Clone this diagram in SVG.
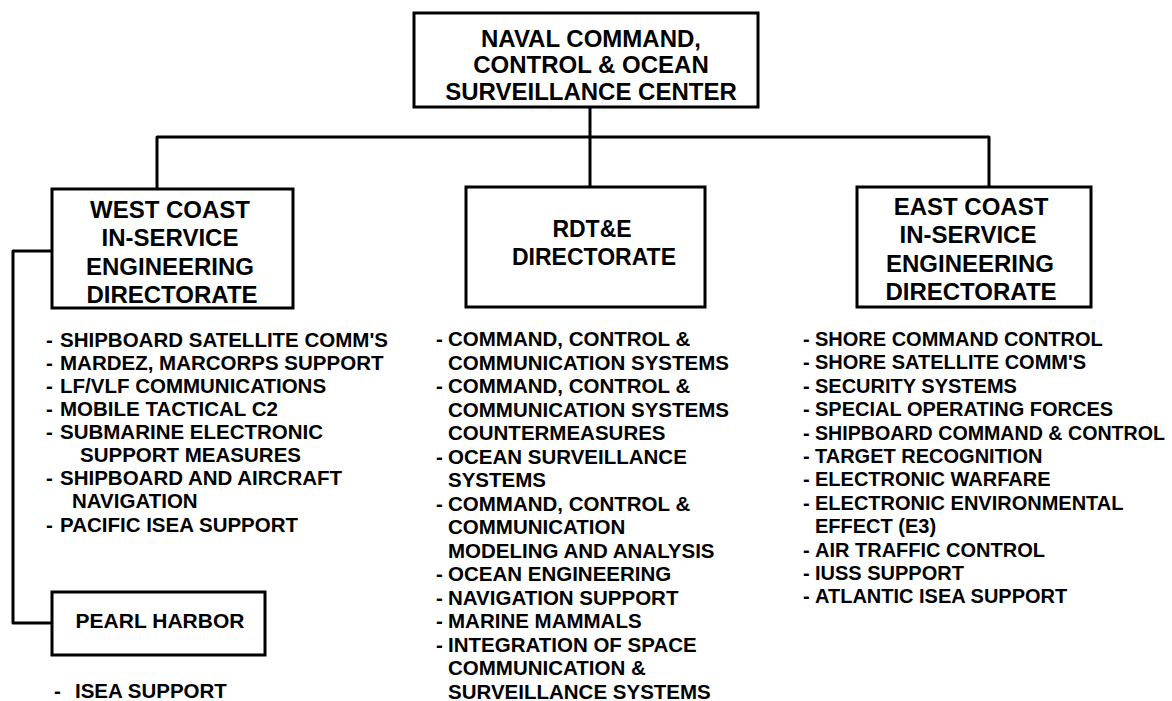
<svg xmlns="http://www.w3.org/2000/svg" width="1172" height="701" viewBox="0 0 1172 701">
<style>
.box{fill:#fff;stroke:#000;stroke-width:3}
.conn{fill:none;stroke:#000;stroke-width:3;stroke-linejoin:round}
.h{font-family:"Liberation Sans",Arial,sans-serif;font-weight:bold;font-size:24px;fill:#000;text-anchor:middle}
.l{font-family:"Liberation Sans",Arial,sans-serif;font-weight:bold;font-size:20.5px;fill:#000}
.e{font-size:20px}
</style>
<rect width="1172" height="701" fill="#fff"/>
<g id="connectors">
<path class="conn" d="M590,107 V137"/>
<path class="conn" d="M157,188 V137 H989 V187"/>
<path class="conn" d="M590,137 V187"/>
<path class="conn" d="M52,251 H13 V623 H52"/>
</g>
<g id="center">
<rect class="box" x="414" y="13" width="344" height="94"/>
<text class="h" x="591" y="47">NAVAL COMMAND,</text>
<text class="h" x="591" y="73">CONTROL &amp; OCEAN</text>
<text class="h" x="591" y="100">SURVEILLANCE CENTER</text>
</g>
<g id="west">
<rect class="box" x="52" y="189" width="241" height="119"/>
<text class="h" x="170" y="218">WEST COAST</text>
<text class="h" x="170" y="246">IN-SERVICE</text>
<text class="h" x="170" y="275">ENGINEERING</text>
<text class="h" x="172" y="303">DIRECTORATE</text>
</g>
<g id="rdte">
<rect class="box" x="466" y="187" width="239" height="120"/>
<text class="h" x="592" y="237" style="font-size:23px">RDT&amp;E</text>
<text class="h" x="594" y="265" style="font-size:23px">DIRECTORATE</text>
</g>
<g id="east">
<rect class="box" x="857" y="187" width="234" height="120"/>
<text class="h" x="971" y="215">EAST COAST</text>
<text class="h" x="968" y="243">IN-SERVICE</text>
<text class="h" x="970" y="272">ENGINEERING</text>
<text class="h" x="971" y="300">DIRECTORATE</text>
</g>
<g id="pearl">
<rect class="box" x="52" y="592" width="213" height="63"/>
<text class="h" x="160" y="628" style="font-size:21px">PEARL HARBOR</text>
</g>
<g id="west-list">
<text class="l" y="347"><tspan x="46">-</tspan><tspan x="60">SHIPBOARD SATELLITE COMM'S</tspan></text>
<text class="l" y="370"><tspan x="46">-</tspan><tspan x="60">MARDEZ, MARCORPS SUPPORT</tspan></text>
<text class="l" y="393"><tspan x="46">-</tspan><tspan x="60">LF/VLF COMMUNICATIONS</tspan></text>
<text class="l" y="416"><tspan x="46">-</tspan><tspan x="60">MOBILE TACTICAL C2</tspan></text>
<text class="l" y="439"><tspan x="46">-</tspan><tspan x="60">SUBMARINE ELECTRONIC</tspan></text>
<text class="l" x="80" y="462">SUPPORT MEASURES</text>
<text class="l" y="485"><tspan x="46">-</tspan><tspan x="60">SHIPBOARD AND AIRCRAFT</tspan></text>
<text class="l" x="72" y="508">NAVIGATION</text>
<text class="l" y="532"><tspan x="46">-</tspan><tspan x="60">PACIFIC ISEA SUPPORT</tspan></text>
</g>
<g id="pearl-list">
<text class="l" y="698"><tspan x="54">-</tspan><tspan x="75">ISEA SUPPORT</tspan></text>
</g>
<g id="rdte-list">
<text class="l" y="346"><tspan x="436">-</tspan><tspan x="448">COMMAND, CONTROL &amp;</tspan></text>
<text class="l" x="448" y="369.5">COMMUNICATION SYSTEMS</text>
<text class="l" y="393"><tspan x="436">-</tspan><tspan x="448">COMMAND, CONTROL &amp;</tspan></text>
<text class="l" x="448" y="416.5">COMMUNICATION SYSTEMS</text>
<text class="l" x="448" y="440">COUNTERMEASURES</text>
<text class="l" y="463.5"><tspan x="436">-</tspan><tspan x="448">OCEAN SURVEILLANCE</tspan></text>
<text class="l" x="448" y="487">SYSTEMS</text>
<text class="l" y="510.5"><tspan x="436">-</tspan><tspan x="448">COMMAND, CONTROL &amp;</tspan></text>
<text class="l" x="448" y="534">COMMUNICATION</text>
<text class="l" x="448" y="557.5">MODELING AND ANALYSIS</text>
<text class="l" y="581"><tspan x="436">-</tspan><tspan x="448">OCEAN ENGINEERING</tspan></text>
<text class="l" y="604.5"><tspan x="436">-</tspan><tspan x="448">NAVIGATION SUPPORT</tspan></text>
<text class="l" y="628"><tspan x="436">-</tspan><tspan x="448">MARINE MAMMALS</tspan></text>
<text class="l" y="651.5"><tspan x="436">-</tspan><tspan x="448">INTEGRATION OF SPACE</tspan></text>
<text class="l" x="448" y="675">COMMUNICATION &amp;</text>
<text class="l" x="448" y="698.5">SURVEILLANCE SYSTEMS</text>
</g>
<g id="east-list">
<text class="l e" y="346"><tspan x="803">-</tspan><tspan x="815">SHORE COMMAND CONTROL</tspan></text>
<text class="l e" y="369.4"><tspan x="803">-</tspan><tspan x="815">SHORE SATELLITE COMM'S</tspan></text>
<text class="l e" y="392.8"><tspan x="803">-</tspan><tspan x="815">SECURITY SYSTEMS</tspan></text>
<text class="l e" y="416.2"><tspan x="803">-</tspan><tspan x="815">SPECIAL OPERATING FORCES</tspan></text>
<text class="l e" y="439.6"><tspan x="803">-</tspan><tspan x="815" textLength="350" lengthAdjust="spacingAndGlyphs">SHIPBOARD COMMAND &amp; CONTROL</tspan></text>
<text class="l e" y="463"><tspan x="803">-</tspan><tspan x="815">TARGET RECOGNITION</tspan></text>
<text class="l e" y="486.4"><tspan x="803">-</tspan><tspan x="815">ELECTRONIC WARFARE</tspan></text>
<text class="l e" y="509.8"><tspan x="803">-</tspan><tspan x="815">ELECTRONIC ENVIRONMENTAL</tspan></text>
<text class="l e" x="815" y="533.2">EFFECT (E3)</text>
<text class="l e" y="556.6"><tspan x="803">-</tspan><tspan x="815">AIR TRAFFIC CONTROL</tspan></text>
<text class="l e" y="580"><tspan x="803">-</tspan><tspan x="815">IUSS SUPPORT</tspan></text>
<text class="l e" y="603.4"><tspan x="803">-</tspan><tspan x="815">ATLANTIC ISEA SUPPORT</tspan></text>
</g>
</svg>
